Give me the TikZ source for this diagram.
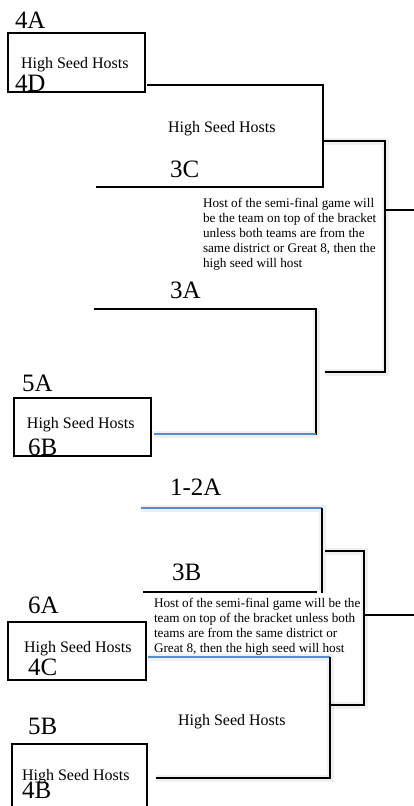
\documentclass[tikz,border=0pt]{standalone}
\usepackage{fontspec}
\setmainfont{Liberation Serif}
\definecolor{bluel}{RGB}{88,142,205}
\begin{document}
\begin{tikzpicture}[x=1pt,y=-1pt,
  lbl/.style={font=\fontsize{25}{25}\selectfont, anchor=base west, inner sep=0pt, outer sep=0pt},
  hsh/.style={font=\fontsize{16}{16}\selectfont, anchor=base west, inner sep=0pt, outer sep=0pt},
  note/.style={font=\fontsize{13.2}{15}\selectfont, align=left, anchor=base west, inner sep=0pt, outer sep=0pt},
  seedbox/.style={draw, line width=1.4pt, anchor=north west, inner sep=0pt, outer sep=0pt},
  wire/.style={draw, line width=1.7pt},
  bluewire/.style={draw=bluel, line width=1.4pt},
  shade/.style={draw=black, line width=7pt, opacity=0.06, line cap=butt}
]
\useasboundingbox (0,0) rectangle (414,806);

% ---------- seed boxes ----------
\node[seedbox, minimum width=137pt, minimum height=59pt] (b1) at (8,33) {};
\node[seedbox, minimum width=137pt, minimum height=58pt] (b2) at (14,398) {};
\node[seedbox, minimum width=138pt, minimum height=58pt] (b3) at (8,622) {};
\node[seedbox, minimum width=135pt, minimum height=66pt] (b4) at (12,744) {};

% ---------- coordinates ----------
% section 1
\coordinate (t1) at (147,85);  \coordinate (c1) at (323,85);
\coordinate (c2) at (323,187); \coordinate (t2) at (96,187);
\coordinate (m1) at (323,141); \coordinate (r1) at (385,141);
\coordinate (r2) at (385,372); \coordinate (m2) at (325,372);
\coordinate (o1) at (385,210); \coordinate (e1) at (414,210);
% section 2
\coordinate (t3) at (94,309);  \coordinate (c3) at (316,309);
\coordinate (c4) at (316,435); \coordinate (t4) at (154,434);
\coordinate (c4b) at (316,434);
% section 3
\coordinate (t5) at (141,508); \coordinate (c5) at (322,508);
\coordinate (c6) at (322,593); \coordinate (t6) at (143,592);
\coordinate (c6b) at (317,592);
\coordinate (m3) at (325,551); \coordinate (r3) at (364,551);
\coordinate (r4) at (364,705); \coordinate (m4) at (330,705);
\coordinate (o2) at (364,615); \coordinate (e2) at (414,615);
% section 4
\coordinate (t7) at (148,657); \coordinate (c7) at (330,657);
\coordinate (c8) at (330,778); \coordinate (t8) at (156,778);

% ---------- soft shadows ----------
\begin{scope}[shift={(3,7)}]
  \draw[shade] (t4) -- (c4b) -- (c3);
  \draw[shade] (t5) -- (c5) -- (c6);
  \draw[shade] (m3) -- (r3) -- (r4) -- (m4);
  \draw[shade] (t7) -- (c7) -- (c8) -- (t8);
  \draw[shade] (m1) -- (r1) -- (r2) -- (m2);
\end{scope}

% ---------- connectors ----------
\draw[wire] (t1) -- (c1) -- (c2) -- (t2);
\draw[wire] (m1) -- (r1) -- (r2) -- (m2);
\draw[wire] (o1) -- (e1);

\draw[wire] (t3) -- (c3) -- (c4);
\draw[bluewire] (t4) -- (c4b);

\draw[bluewire] (t5) -- (c5);
\draw[wire] (c5) -- (c6);
\draw[wire] (t6) -- (c6b);
\draw[wire] (m3) -- (r3) -- (r4) -- (m4);
\draw[wire] (o2) -- (e2);

\draw[bluewire] (t7) -- (c7);
\draw[wire] (c7) -- (c8) -- (t8);

% ---------- seed labels ----------
\node[lbl] (l4A) at (15,28) {4A};
\node[lbl] (l4D) at (15,91) {4D};
\node[lbl] (l3C) at (170,177) {3C};
\node[lbl] (l3A) at (170,298) {3A};
\node[lbl] (l5A) at (22,391) {5A};
\node[lbl] (l6B) at (28,455) {6B};
\node[lbl] (l12A) at (170,495) {1-2A};
\node[lbl] (l3B) at (172,580) {3B};
\node[lbl] (l6A) at (28,613) {6A};
\node[lbl] (l4C) at (28,675) {4C};
\node[lbl] (l5B) at (28,734) {5B};
\node[lbl] (l4B) at (22,798) {4B};

% ---------- host texts ----------
\node[hsh] (h1) at (21,68) {High Seed Hosts};
\node[hsh] (h2) at (168,132) {High Seed Hosts};
\node[hsh] (h3) at (27,428) {High Seed Hosts};
\node[hsh] (h4) at (24,652) {High Seed Hosts};
\node[hsh] (h5) at (178,725) {High Seed Hosts};
\node[hsh] (h6) at (22,780) {High Seed Hosts};

% base anchor of a multi-line node sits on its last line
\node[note] (n1) at (203,267) {Host of the semi-final game will\\be the team on top of the bracket\\unless both teams are from the\\same district or Great 8, then the\\high seed will host};
\node[note] (n2) at (154,652) {Host of the semi-final game will be the\\team on top of the bracket unless both\\teams are from the same district or\\Great 8, then the high seed will host};
\end{tikzpicture}
\end{document}
